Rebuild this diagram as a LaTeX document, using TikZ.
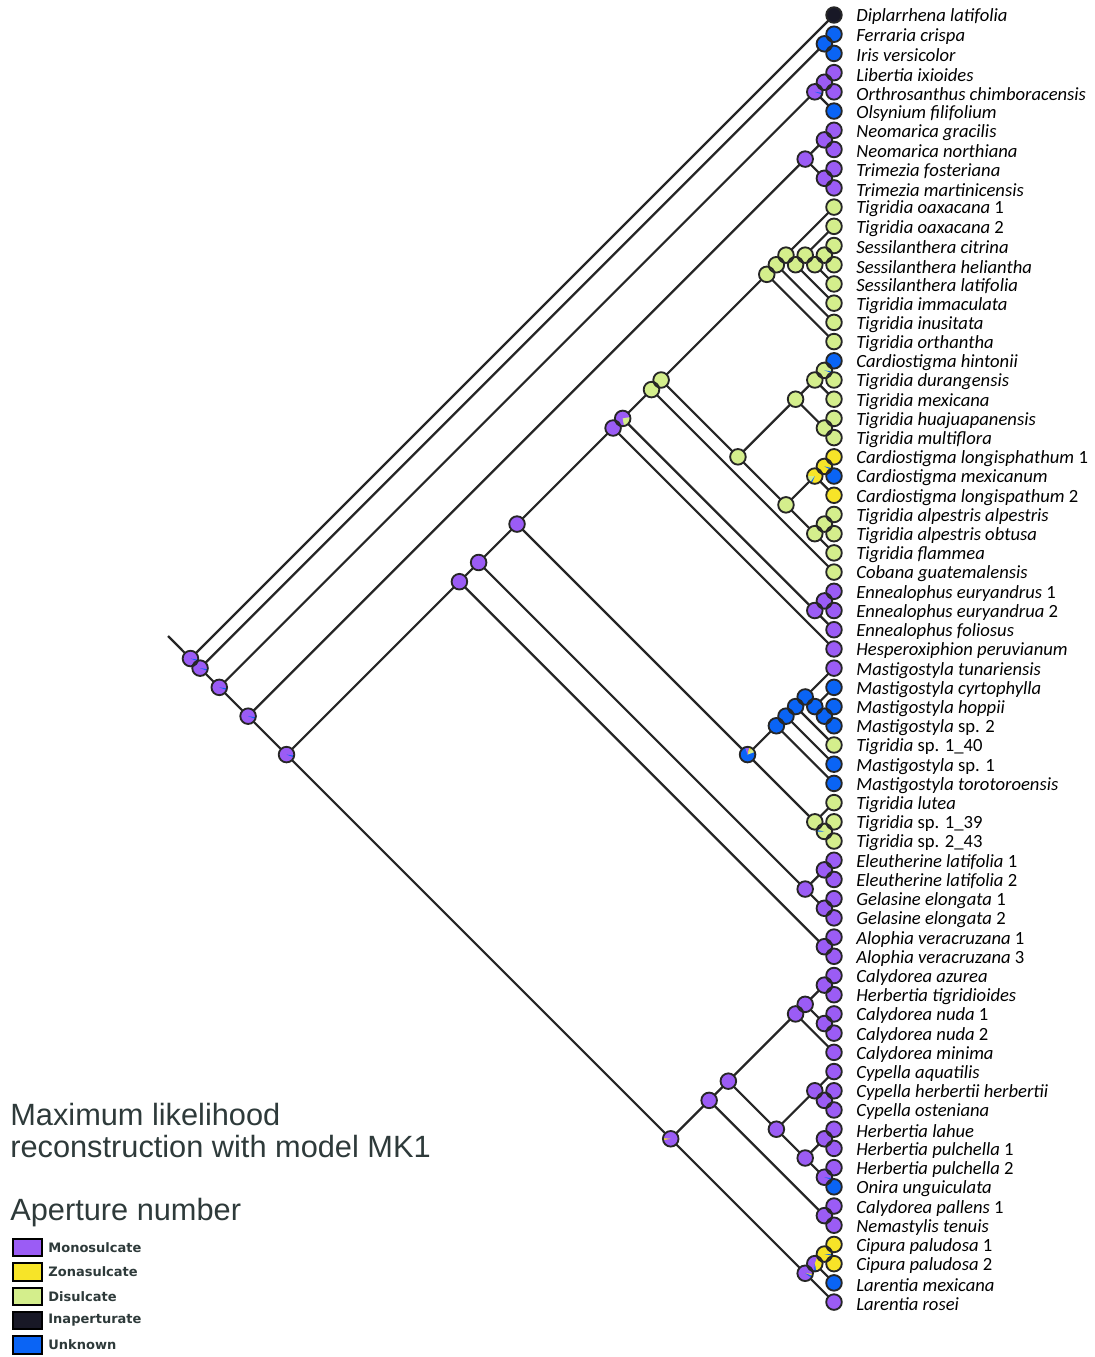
\documentclass[tikz,border=0pt]{standalone}
\usepackage{fontspec}
\setmainfont{Carlito}
\newfontfamily\legendfont{Liberation Sans}
\newfontfamily\keyfont{DejaVu Sans}
\usetikzlibrary{positioning}

\definecolor{mono}{RGB}{155,92,245}
\definecolor{zona}{RGB}{247,228,40}
\definecolor{disu}{RGB}{212,238,140}
\definecolor{inap}{RGB}{24,24,38}
\definecolor{unkn}{RGB}{10,100,245}
\definecolor{legendgray}{RGB}{46,58,58}

\tikzset{
  branch/.style={line width=1.25pt, black!85},
  rim/.style={line width=1.05pt, black!85},
  taxon/.style={anchor=west, inner sep=0pt, yshift=-0.04cm, font=\fontsize{10.6}{12}\selectfont},
  headline/.style={anchor=base west, inner sep=0pt, text=legendgray, font=\legendfont\fontsize{17.5}{18.2}\selectfont},
  keybox/.style={draw=black, line width=1.2pt, minimum width=0.58cm, minimum height=0.35cm, inner sep=0pt},
  keytext/.style={anchor=west, inner sep=0pt, text=legendgray, font=\keyfont\bfseries\fontsize{7.4}{9}\selectfont},
}

% one wedge of a pie: node, start angle, end angle, colour
\newcommand{\pieslice}[4]{\fill[#4] (#1) -- +(#2:7.8) arc[start angle=#2, end angle=#3, radius=7.8] -- cycle;}

\begin{document}
\begin{tikzpicture}[x=0.02cm, y=0.02cm]
\useasboundingbox (0,0) rectangle (1095,-1357);

% leaves
\foreach \i in {1,...,68}
  \coordinate (l\i) at (834,{-15-(\i-1)*19.21});

% ancestors, named by first and last leaf of the clade
\foreach \a/\b in {1/68,2/68,2/3,4/68,4/6,4/5,7/68,7/10,7/8,9/10,11/68,11/50,49/50,
    11/48,45/48,45/46,47/48,11/44,11/34,11/33,31/33,31/32,11/30,11/29,11/18,11/17,
    11/16,12/16,12/15,13/15,13/14,19/29,19/23,19/21,19/20,22/23,24/29,24/26,24/25,
    27/29,27/28,35/44,35/41,35/40,35/39,35/38,36/38,37/38,42/44,43/44,51/68,51/64,
    63/64,51/62,51/55,51/54,51/52,53/54,56/62,56/58,57/58,59/62,59/60,61/62,65/68,
    65/67,65/66}
  \coordinate (c\a-\b) at ({834-(\b-\a)*9.605},{-15-(\a+\b-2)*9.605});
\coordinate (stem) at (168,-636);

% branches
\draw[branch] (stem) -- (c1-68);
\foreach \p/\u/\v in {c1-68/l1/c2-68, c2-68/c2-3/c4-68, c2-3/l2/l3, c4-68/c4-6/c7-68,
    c4-6/c4-5/l6, c4-5/l4/l5, c7-68/c7-10/c11-68, c7-10/c7-8/c9-10, c7-8/l7/l8,
    c9-10/l9/l10, c11-68/c11-50/c51-68, c11-50/c11-48/c49-50, c49-50/l49/l50,
    c11-48/c11-44/c45-48, c45-48/c45-46/c47-48, c45-46/l45/l46, c47-48/l47/l48,
    c11-44/c11-34/c35-44, c11-34/c11-33/l34, c11-33/c11-30/c31-33, c31-33/c31-32/l33,
    c31-32/l31/l32, c11-30/c11-29/l30, c11-29/c11-18/c19-29, c11-18/c11-17/l18,
    c11-17/c11-16/l17, c11-16/l11/c12-16, c12-16/c12-15/l16, c12-15/l12/c13-15,
    c13-15/c13-14/l15, c13-14/l13/l14, c19-29/c19-23/c24-29, c19-23/c19-21/c22-23,
    c19-21/c19-20/l21, c19-20/l19/l20, c22-23/l22/l23, c24-29/c24-26/c27-29,
    c24-26/c24-25/l26, c24-25/l24/l25, c27-29/c27-28/l29, c27-28/l27/l28,
    c35-44/c35-41/c42-44, c35-41/c35-40/l41, c35-40/c35-39/l40, c35-39/c35-38/l39,
    c35-38/l35/c36-38, c36-38/l36/c37-38, c37-38/l37/l38, c42-44/l42/c43-44,
    c43-44/l43/l44, c51-68/c51-64/c65-68, c51-64/c51-62/c63-64, c63-64/l63/l64,
    c51-62/c51-55/c56-62, c51-55/c51-54/l55, c51-54/c51-52/c53-54, c51-52/l51/l52,
    c53-54/l53/l54, c56-62/c56-58/c59-62, c56-58/l56/c57-58, c57-58/l57/l58,
    c59-62/c59-60/c61-62, c59-60/l59/l60, c61-62/l61/l62, c65-68/c65-67/l68,
    c65-67/c65-66/l67, c65-66/l65/l66}
  {\draw[branch] (\p) -- (\u); \draw[branch] (\p) -- (\v);}

% ancestral states
\foreach \n in {c1-68,c2-68,c4-68,c4-6,c4-5,c7-68,c7-10,c7-8,c9-10,c11-68,c11-50,
    c49-50,c11-48,c45-48,c45-46,c47-48,c11-44,c11-34,c11-33,c31-33,c31-32,c51-68,
    c51-64,c63-64,c51-62,c51-55,c51-54,c51-52,c53-54,c56-62,c56-58,c57-58,c59-62,
    c59-60,c61-62,c65-68,c65-67}
  \fill[mono] (\n) circle (7.8);
\foreach \n in {c2-3,c35-44,c35-41,c35-40,c35-39,c35-38,c36-38,c37-38}
  \fill[unkn] (\n) circle (7.8);
\foreach \n in {c11-30,c11-29,c11-18,c11-17,c11-16,c12-16,c12-15,c13-15,c13-14,
    c19-29,c19-23,c19-21,c19-20,c22-23,c24-29,c27-29,c27-28,c42-44,c43-44}
  \fill[disu] (\n) circle (7.8);
\foreach \n in {c24-26,c24-25,c65-66}
  \fill[zona] (\n) circle (7.8);

% mixed pies
\foreach \n in {c1-68,c2-68,c4-68,c7-68,c11-68,c4-6,c61-62}
  {\pieslice{\n}{-20}{-8}{unkn}}
\pieslice{c11-33}{-80}{10}{disu}
\pieslice{c19-20}{-20}{-8}{unkn}
\pieslice{c24-25}{-28}{-12}{unkn}
\pieslice{c24-26}{180}{235}{disu}
\pieslice{c24-26}{235}{247}{unkn}
\pieslice{c35-44}{20}{60}{disu}
\pieslice{c35-44}{60}{80}{zona}
\pieslice{c35-44}{80}{110}{mono}
\pieslice{c65-66}{-12}{0}{unkn}
\pieslice{c65-67}{-80}{70}{zona}
\pieslice{c65-67}{-95}{-80}{unkn}
\pieslice{c65-68}{-20}{-5}{zona}
\pieslice{c65-68}{-35}{-20}{unkn}
\pieslice{c51-68}{175}{190}{zona}
\pieslice{c43-44}{170}{182}{unkn}

% leaf states
\fill[inap] (l1) circle (7.8);
\foreach \i in {2,3,6,19,25,36,37,38,40,41,62,67}
  \fill[unkn] (l\i) circle (7.8);
\foreach \i in {24,26,65,66}
  \fill[zona] (l\i) circle (7.8);
\foreach \i in {11,12,13,14,15,16,17,18,20,21,22,23,27,28,29,30,39,42,43,44}
  \fill[disu] (l\i) circle (7.8);
\foreach \i in {4,5,7,8,9,10,31,32,33,34,35,45,46,47,48,49,50,51,52,53,54,55,56,
    57,58,59,60,61,63,64,68}
  \fill[mono] (l\i) circle (7.8);

% rims
\foreach \i in {1,...,68}
  \draw[rim] (l\i) circle (7.8);
\foreach \a/\b in {1/68,2/68,2/3,4/68,4/6,4/5,7/68,7/10,7/8,9/10,11/68,11/50,49/50,
    11/48,45/48,45/46,47/48,11/44,11/34,11/33,31/33,31/32,11/30,11/29,11/18,11/17,
    11/16,12/16,12/15,13/15,13/14,19/29,19/23,19/21,19/20,22/23,24/29,24/26,24/25,
    27/29,27/28,35/44,35/41,35/40,35/39,35/38,36/38,37/38,42/44,43/44,51/68,51/64,
    63/64,51/62,51/55,51/54,51/52,53/54,56/62,56/58,57/58,59/62,59/60,61/62,65/68,
    65/67,65/66}
  \draw[rim] (c\a-\b) circle (7.8);

% taxon names
\foreach \i/\t in {1/{\textit{Diplarrhena latifolia}}, 2/{\textit{Ferraria crispa}},
    3/{\textit{Iris versicolor}}, 4/{\textit{Libertia ixioides}},
    5/{\textit{Orthrosanthus chimboracensis}}, 6/{\textit{Olsynium filifolium}},
    7/{\textit{Neomarica gracilis}}, 8/{\textit{Neomarica northiana}},
    9/{\textit{Trimezia fosteriana}}, 10/{\textit{Trimezia martinicensis}},
    11/{\textit{Tigridia oaxacana} 1}, 12/{\textit{Tigridia oaxacana} 2},
    13/{\textit{Sessilanthera citrina}}, 14/{\textit{Sessilanthera heliantha}},
    15/{\textit{Sessilanthera latifolia}}, 16/{\textit{Tigridia immaculata}},
    17/{\textit{Tigridia inusitata}}, 18/{\textit{Tigridia orthantha}},
    19/{\textit{Cardiostigma hintonii}}, 20/{\textit{Tigridia durangensis}},
    21/{\textit{Tigridia mexicana}}, 22/{\textit{Tigridia huajuapanensis}},
    23/{\textit{Tigridia multiflora}}, 24/{\textit{Cardiostigma longisphathum} 1},
    25/{\textit{Cardiostigma mexicanum}}, 26/{\textit{Cardiostigma longispathum} 2},
    27/{\textit{Tigridia alpestris alpestris}}, 28/{\textit{Tigridia alpestris obtusa}},
    29/{\textit{Tigridia flammea}}, 30/{\textit{Cobana guatemalensis}},
    31/{\textit{Ennealophus euryandrus} 1}, 32/{\textit{Ennealophus euryandrua} 2},
    33/{\textit{Ennealophus foliosus}}, 34/{\textit{Hesperoxiphion peruvianum}},
    35/{\textit{Mastigostyla tunariensis}}, 36/{\textit{Mastigostyla cyrtophylla}},
    37/{\textit{Mastigostyla hoppii}}, 38/{\textit{Mastigostyla} sp. 2},
    39/{\textit{Tigridia} sp. 1\_40}, 40/{\textit{Mastigostyla} sp. 1},
    41/{\textit{Mastigostyla torotoroensis}}, 42/{\textit{Tigridia lutea}},
    43/{\textit{Tigridia} sp. 1\_39}, 44/{\textit{Tigridia} sp. 2\_43},
    45/{\textit{Eleutherine latifolia} 1}, 46/{\textit{Eleutherine latifolia} 2},
    47/{\textit{Gelasine elongata} 1}, 48/{\textit{Gelasine elongata} 2},
    49/{\textit{Alophia veracruzana} 1}, 50/{\textit{Alophia veracruzana} 3},
    51/{\textit{Calydorea azurea}}, 52/{\textit{Herbertia tigridioides}},
    53/{\textit{Calydorea nuda} 1}, 54/{\textit{Calydorea nuda} 2},
    55/{\textit{Calydorea minima}}, 56/{\textit{Cypella aquatilis}},
    57/{\textit{Cypella herbertii herbertii}}, 58/{\textit{Cypella osteniana}},
    59/{\textit{Herbertia lahue}}, 60/{\textit{Herbertia pulchella} 1},
    61/{\textit{Herbertia pulchella} 2}, 62/{\textit{Onira unguiculata}},
    63/{\textit{Calydorea pallens} 1}, 64/{\textit{Nemastylis tenuis}},
    65/{\textit{Cipura paludosa} 1}, 66/{\textit{Cipura paludosa} 2},
    67/{\textit{Larentia mexicana}}, 68/{\textit{Larentia rosei}}}
  \node[taxon, right=0.44cm of l\i] (t\i) {\t};

% legend
\node[headline] (title1) at (10,-1125) {Maximum likelihood};
\node[headline] (title2) at (10,-1157) {reconstruction with model MK1};
\node[headline] (keyhead) at (10,-1220) {Aperture number};
\foreach \y/\c/\t in {1247.5/mono/Monosulcate, 1272/zona/Zonasulcate,
    1296.5/disu/Disulcate, 1320.5/inap/Inaperturate, 1345/unkn/Unknown}
  {\node[keybox, fill=\c] (box\t) at (27.5,-\y) {};
   \node[keytext, right=0.1cm of box\t] (key\t) {\t};}
\end{tikzpicture}
\end{document}
